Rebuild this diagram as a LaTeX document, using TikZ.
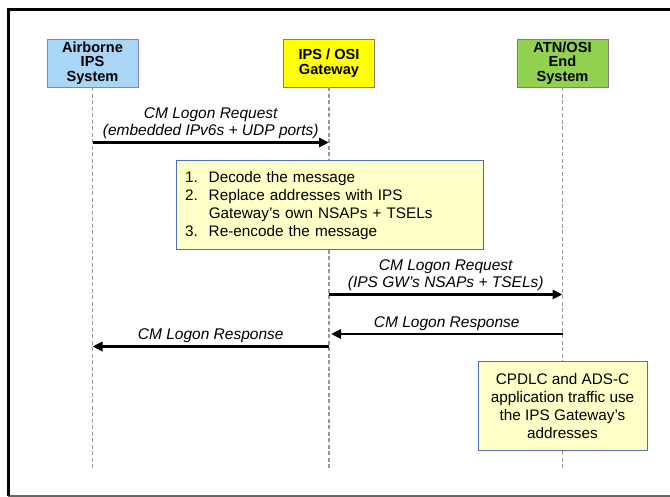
\documentclass[tikz,border=0pt]{standalone}
\usepackage{fontspec}
\setmainfont{Liberation Sans}
\usetikzlibrary{positioning}
\usetikzlibrary{arrows.meta}
\definecolor{airBlue}{HTML}{A9D6F7}
\definecolor{airEdge}{HTML}{8A7FBF}
\definecolor{gwYellow}{HTML}{FFFF00}
\definecolor{gwEdge}{HTML}{8C7B6A}
\definecolor{atnGreen}{HTML}{92D050}
\definecolor{atnEdge}{HTML}{7F7F7F}
\definecolor{noteYellow}{HTML}{FFFFC8}
\definecolor{noteEdge}{HTML}{4F70B0}
\tikzset{%
	% Specifications for style of nodes:
	base/.style = {rectangle, line width=0.9pt, inner sep=1pt,
		minimum width=91pt, minimum height=48pt,
		text centered, align=center,
		font=\fontsize{14.6pt}{14.6pt}\selectfont\bfseries},
	airborne/.style = {base, fill=airBlue, draw=airEdge},
	gateway/.style = {base, fill=gwYellow, draw=gwEdge},
	endSystem/.style = {base, fill=atnGreen, draw=atnEdge},
	note/.style = {rectangle, line width=1pt, fill=noteYellow, draw=noteEdge,
		font=\fontsize{15.3pt}{18pt}\selectfont},
	lifeline/.style = {draw=black!40, line width=1.1pt, dash pattern=on 4pt off 2.5pt},
	message/.style = {line width=2.6pt, -{Triangle[length=10pt, width=9pt]}},
	msgText/.style = {above, inner sep=2pt, align=center,
		font=\fontsize{15.5pt}{17pt}\selectfont\itshape}
}

\begin{document}
\begin{tikzpicture}[x=1pt, y=-1pt]
		\useasboundingbox (0,0) rectangle (670,497);
		% frame
		\draw[black!60, line width=2pt] (8,495.5) -- (690,495.5);
		\draw[black, line width=3pt] (8,496) -- (8,10) -- (690,10);
		% entities
		\node (airborne) [airborne] at (92.5,63) {Airborne\\IPS\\System};
		\node (gateway) [gateway] at (329,63) {IPS / OSI\\Gateway};
		\node (endSystem) [endSystem] at (562.5,63) {ATN/OSI\\End\\System};
		\foreach \e/\name in {airborne/airEnd, gateway/gwEnd, endSystem/atnEnd} {
			\coordinate (\name) at (\e.south |- 0,469);
			\draw[lifeline] (\e.south) -- (\name);
		}
		% message levels
		\coordinate (req1) at (0,142.5);
		\coordinate (req2) at (0,294.5);
		\coordinate (resp1) at (0,334);
		\coordinate (resp2) at (0,346.5);
		\draw[message] (airEnd |- req1) -- node[msgText] {CM Logon Request\\(embedded IPv6s + UDP ports)} (gwEnd |- req1);
		\node (process) [note, minimum width=307pt, minimum height=89pt, text width=289pt, inner xsep=9pt, align=left] at (329.5,205.5) {%
			\begin{tabular}{@{}l@{\hspace{11pt}}l@{}}
				1. & Decode the message\\
				2. & Replace addresses with IPS\\
				   & Gateway’s own NSAPs + TSELs\\
				3. & Re-encode the message
			\end{tabular}};
		\draw[message] (gwEnd |- req2) -- node[msgText] {CM Logon Request\\(IPS GW’s NSAPs + TSELs)} (atnEnd |- req2);
		\draw[message] (atnEnd |- resp1) -- node[msgText] {CM Logon Response} ([xshift=2pt]gwEnd |- resp1);
		\draw[message] (gwEnd |- resp2) -- node[msgText] {CM Logon Response} (airEnd |- resp2);
		\node (traffic) [note, minimum width=169pt, minimum height=88pt, align=center] at (562.5,406) {CPDLC and ADS-C\\application traffic use\\the IPS Gateway’s\\addresses};
	\end{tikzpicture}
\end{document}
